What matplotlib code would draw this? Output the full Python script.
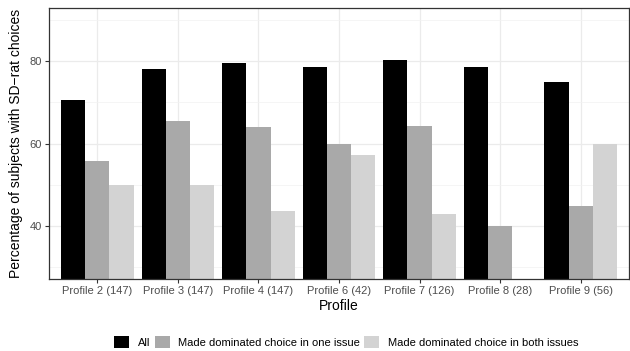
import matplotlib.pyplot as plt
from matplotlib.patches import Patch
from matplotlib.ticker import MultipleLocator
import numpy as np

plt.rcParams['font.family'] = ['Liberation Sans', 'DejaVu Sans']

profiles = ["Profile 2 (147)", "Profile 3 (147)", "Profile 4 (147)", "Profile 6 (42)",
            "Profile 7 (126)", "Profile 8 (28)", "Profile 9 (56)"]
series = ["All", "Made dominated choice in one issue", "Made dominated choice in both issues"]
all_vals = [70.7, 78.2, 79.6, 78.6, 80.3, 78.6, 75.0]
one_issue = [55.8, 65.5, 64.1, 59.9, 64.3, 40.0, 44.8]
both_issues = [50.0, 50.0, 43.6, 57.1, 42.9, np.nan, 60.0]
colors = ["#000000", "#A9A9A9", "#D3D3D3"]

fig = plt.figure(figsize=(6.3, 3.51), dpi=100)
ax = fig.add_axes([49 / 630, 72 / 351, 580 / 630, 271 / 351])

x = np.arange(len(profiles))
w = 0.3
for i, vals in enumerate([all_vals, one_issue, both_issues]):
    ax.bar(x + (i - 1) * w, vals, width=w, color=colors[i], zorder=2)

ax.set_xlim(-0.6, len(profiles) - 0.4)
ax.set_ylim(27, 93)
ax.yaxis.set_minor_locator(MultipleLocator(10))
ax.set_yticks([40, 60, 80])
ax.set_xticks(x)
ax.set_xticklabels(profiles)

ax.grid(True, which="major", color="#EBEBEB", linewidth=0.9, zorder=0)
ax.grid(True, which="minor", axis="y", color="#F2F2F2", linewidth=0.5, zorder=0)
ax.set_axisbelow(True)
for s in ax.spines.values():
    s.set_color("#333333")
    s.set_linewidth(0.9)
ax.tick_params(axis="both", which="major", labelsize=8, colors="#333333",
               labelcolor="#4D4D4D", length=3, width=0.8, pad=2)
ax.tick_params(axis="y", which="minor", length=0)

ax.set_xlabel("Profile", fontsize=10, labelpad=2)
ax.set_ylabel("Percentage of subjects with SD\u2212rat choices", fontsize=10, labelpad=5)

handles = [Patch(facecolor=c, edgecolor="none", label=l) for c, l in zip(colors, series)]
fig.legend(handles=handles, loc="center", bbox_to_anchor=(0.55, 9 / 351), ncol=3,
           frameon=False, fontsize=8, handlelength=1.35, handleheight=1.35,
           handletextpad=0.8, columnspacing=0.35, borderpad=0, borderaxespad=0)

fig.savefig("out.png", dpi=100)
